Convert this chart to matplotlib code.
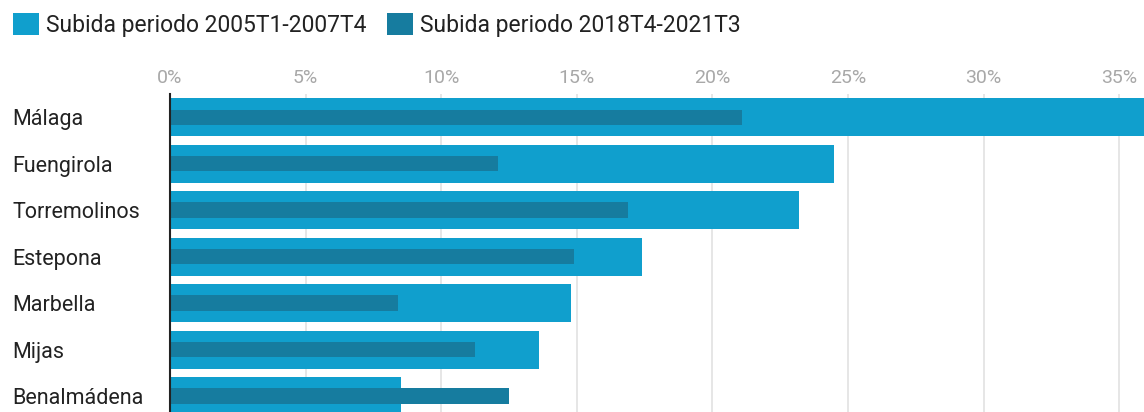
import numpy as np
import matplotlib.pyplot as plt

plt.rcParams['font.family'] = ['Roboto', 'DejaVu Sans']

# datos
municipios = ['Málaga', 'Fuengirola', 'Torremolinos', 'Estepona', 'Marbella', 'Mijas', 'Benalmádena']
subida_2005_2007 = [37.5, 24.5, 23.2, 17.4, 14.8, 13.6, 8.5]
subida_2018_2021 = [21.1, 12.1, 16.9, 14.9, 8.4, 11.25, 12.5]
serie_1 = 'Subida periodo 2005T1-2007T4'
serie_2 = 'Subida periodo 2018T4-2021T3'
xticks = [0, 5, 10, 15, 20, 25, 30, 35]

claro = '#109fcd'
oscuro = '#167c9f'

W, H = 1144, 412
fig = plt.figure(figsize=(W / 100, H / 100), dpi=100)
ax = fig.add_axes([170 / W, 0, 1 - 170 / W, (412 - 94) / H])

y = np.arange(len(municipios))
ax.barh(y, subida_2005_2007, height=0.82, color=claro, label=serie_1, zorder=2)
ax.barh(y, subida_2018_2021, height=0.33, color=oscuro, label=serie_2, zorder=3)

ax.set_xlim(0, (W - 170) / 27.12)
ax.set_ylim(6.344, -0.5)

# eje x arriba
ax.xaxis.tick_top()
ax.set_xticks(xticks)
ax.set_xticklabels([f'{t}%' for t in xticks], color='#a8a8a8', fontsize=14)
ax.tick_params(axis='x', length=0, pad=5)
ax.grid(axis='x', color='#e2e2e2', linewidth=1.2, zorder=0)

# etiquetas de municipios
ax.set_yticks(y)
ax.set_yticklabels(municipios, fontsize=15.5, color='#222222', ha='left')
ax.tick_params(axis='y', length=0, pad=158 / 1.389)

for s in ['top', 'right', 'bottom']:
    ax.spines[s].set_visible(False)
ax.spines['left'].set_color('#222222')
ax.spines['left'].set_linewidth(1.5)
ax.spines['left'].set_zorder(4)

fig.legend(loc='upper left', bbox_to_anchor=(0.0, 1.0), ncol=2, frameon=False,
           fontsize=16.5, handlelength=1.15, handleheight=1.15, handletextpad=0.3,
           columnspacing=0.9, borderaxespad=0.15, labelcolor='#222222')

fig.savefig('out.png', dpi=100)
